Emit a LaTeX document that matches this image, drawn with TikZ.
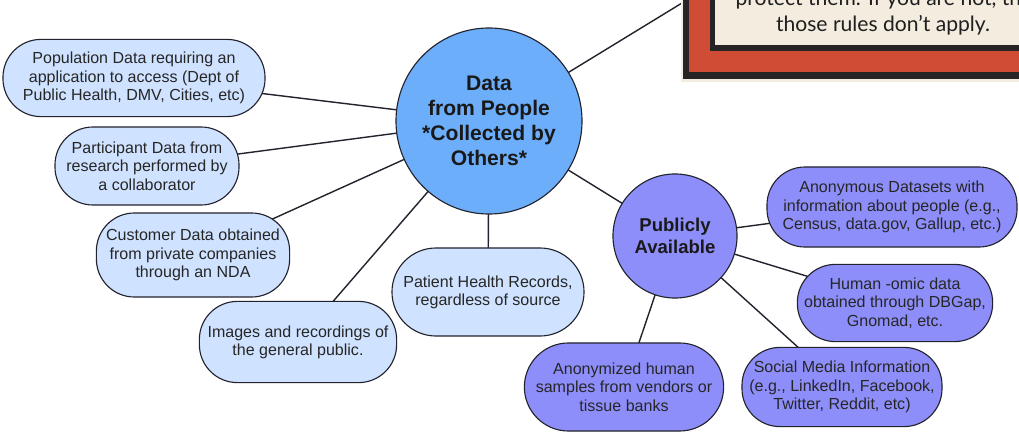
\documentclass[tikz,border=0pt]{standalone}
\usepackage{fontspec}
\setmainfont{Liberation Sans}
\newfontfamily\signfont{Lato}
\usepackage{tikz}
\usetikzlibrary{backgrounds}
\definecolor{hubblue}{HTML}{6DAEFB}
\definecolor{leafblue}{HTML}{CFE2FF}
\definecolor{pubviolet}{HTML}{8E8EFA}
\definecolor{inkline}{HTML}{23232E}
\definecolor{signred}{HTML}{D04C35}
\definecolor{signcream}{HTML}{F3ECDF}
\definecolor{signdark}{HTML}{262424}

\begin{document}
\begin{tikzpicture}[x=0.025cm, y=-0.025cm, line width=0.8pt,
	hub/.style = {draw=inkline, fill=hubblue, circle, inner sep=0pt, align=center, text=black!90, font=\fontsize{15}{17.8}\selectfont\bfseries},
	pub/.style = {hub, fill=pubviolet, font=\fontsize{13.2}{15.5}\selectfont\bfseries},
	leaf/.style = {draw=inkline, fill=leafblue, rectangle, rounded corners=0.95cm, inner sep=0pt, align=center, text=black!85, font=\fontsize{11.4}{13}\selectfont},
	pleaf/.style = {leaf, fill=pubviolet},
	link/.style = {draw=inkline, line width=1pt},
	sign/.style = {inner sep=0pt, text=black!88, font=\signfont\fontsize{15}{18}\selectfont}]
	\useasboundingbox (0,0) rectangle (1019,433);
	% hubs
	\node[hub, minimum size=4.65cm] (main) at (489,121) {Data\\from People\\*Collected by\\Others*};
	\node[pub, minimum size=3.1cm] (pub) at (675,236) {Publicly\\Available};
	% collected by others
	\node[leaf, minimum width=6.55cm, minimum height=1.93cm] (b1) at (134,78) {Population Data requiring an\\application to access (Dept of\\Public Health, DMV, Cities, etc)};
	\node[leaf, minimum width=4.6cm, minimum height=1.95cm] (b2) at (147,166) {Participant Data from\\research performed by\\a collaborator};
	\node[leaf, minimum width=4.83cm, minimum height=2.1cm] (b3) at (193,255) {Customer Data obtained\\from private companies\\through an NDA};
	\node[leaf, minimum width=4.93cm, minimum height=2.03cm] (b4) at (298,342) {Images and recordings of\\the general public.};
	\node[leaf, minimum width=4.8cm, minimum height=2.2cm, rounded corners=1.1cm] (b5) at (488,292) {Patient Health Records,\\regardless of source};
	% publicly available
	\node[pleaf, minimum width=6.25cm, minimum height=2cm] (p1) at (892,207) {Anonymous Datasets with\\information about people (e.g.,\\Census, data.gov, Gallup, etc.)};
	\node[pleaf, minimum width=4.88cm, minimum height=1.93cm] (p2) at (895,303) {Human -omic data\\obtained through DBGap,\\Gnomad, etc.};
	\node[pleaf, minimum width=5cm, minimum height=1.98cm] (p3) at (842,387) {Social Media Information\\(e.g., LinkedIn, Facebook,\\Twitter, Reddit, etc)};
	\node[pleaf, minimum width=4.98cm, minimum height=2.2cm, rounded corners=1.1cm] (p4) at (624,387) {Anonymized human\\samples from vendors or\\tissue banks};
	\coordinate (rc) at (682,3);
	% connectors
	\begin{scope}[on background layer]
		\fill[white] (0,0) rectangle (1019,433);
		\foreach \n in {b1,b2,b3,b4,b5,pub,rc}
			\draw[link] (main.center) -- (\n.center);
		\foreach \n in {p1,p2,p3,p4}
			\draw[link] (pub.center) -- (\n.center);
	\end{scope}
	% framed note, cut by the edge
	\begin{scope}
		\clip (0,0) rectangle (1019,433);
		\fill[signcream] (681,-10) rectangle (1030,82);
		\fill[signdark] (683,-10) rectangle (1030,79);
		\fill[signred] (689,-10) rectangle (1030,72);
		\fill[signdark] (710,-10) rectangle (1030,51);
		\fill[signcream] (715,-10) rectangle (1030,45);
		\node[sign, anchor=base west] (s1) at (735,6) {protect them. If you are not, th};
		\node[sign, anchor=base] (s2) at (883,32) {those rules don’t apply.};
	\end{scope}
\end{tikzpicture}
\end{document}
